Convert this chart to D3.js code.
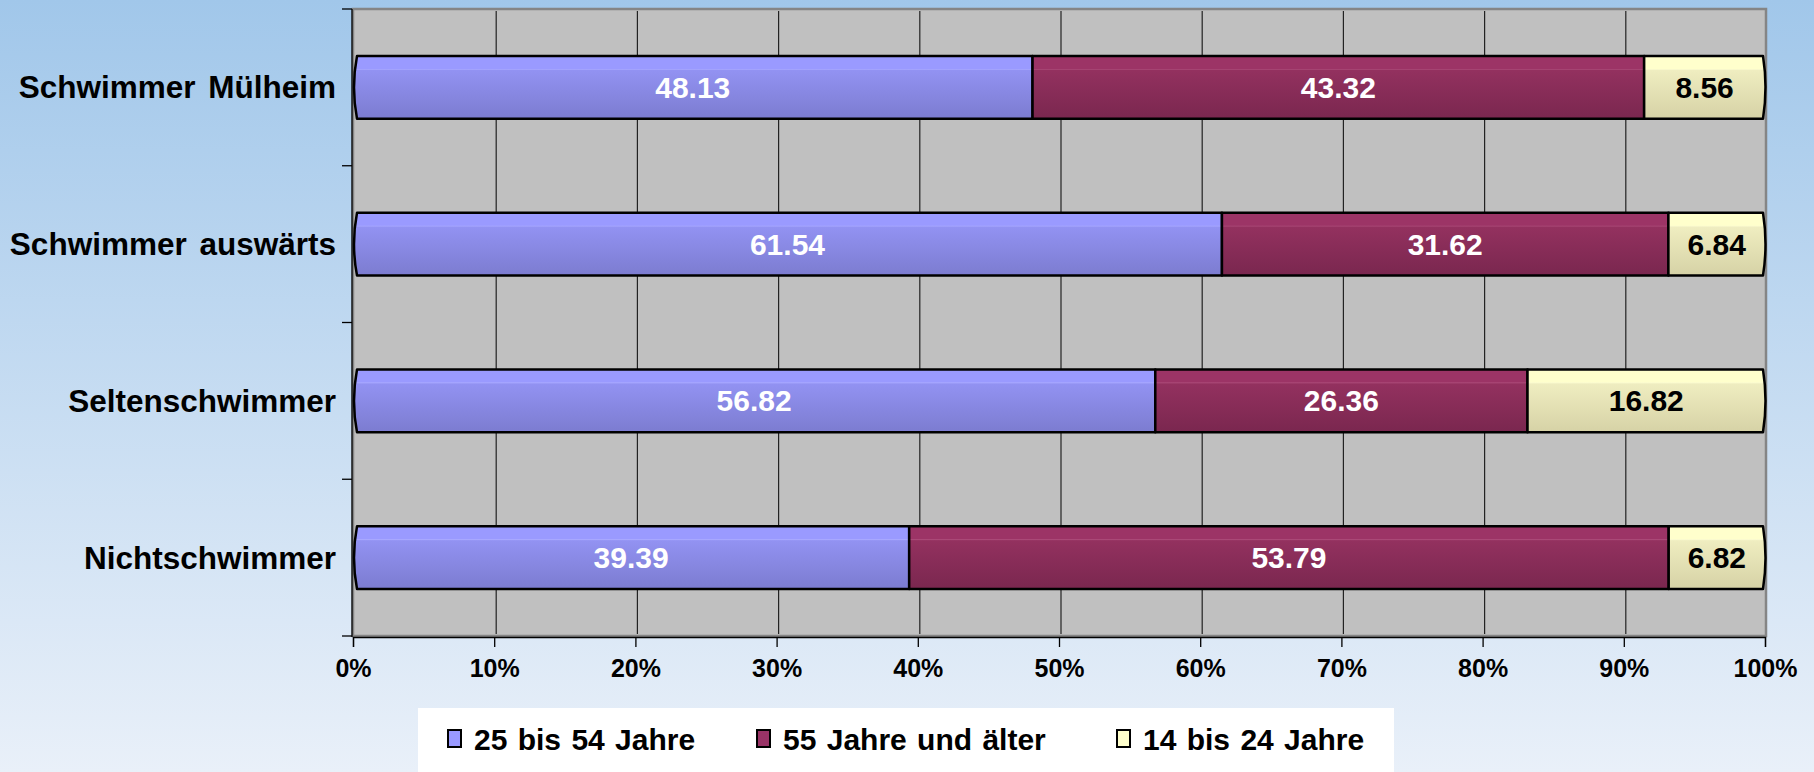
<!DOCTYPE html>
<html>
<head>
    <meta charset="utf-8">
    <title>Schwimmer nach Alter</title>
    <style>
        body { margin: 0; }
        #chart { display: block; }
        text { font-family: "Liberation Sans", Arial, sans-serif; font-weight: bold; }
    </style>
    <script src="https://d3js.org/d3.v7.min.js"></script>
</head>
<body>
    <svg id="chart" width="1814" height="772"></svg>
    <script>
        var categories = ["Schwimmer Mülheim", "Schwimmer auswärts", "Seltenschwimmer", "Nichtschwimmer"];
        var seriesNames = ["25 bis 54 Jahre", "55 Jahre und älter", "14 bis 24 Jahre"];
        var age25to54 = [48.13, 61.54, 56.82, 39.39];
        var age55plus = [43.32, 31.62, 26.36, 53.79];
        var age14to24 = [8.56, 6.84, 16.82, 6.82];
        var xTicks = [0, 0.1, 0.2, 0.3, 0.4, 0.5, 0.6, 0.7, 0.8, 0.9, 1];

        var svg = d3.select("#chart");
        var W = 1814, H = 772;
        var plot = { left: 353, right: 1765, top: 9, bottom: 636 };

        var defs = svg.append("defs");
        var bg = defs.append("linearGradient").attr("id", "bg")
            .attr("x1", 0).attr("y1", 0).attr("x2", 0).attr("y2", 1);
        bg.append("stop").attr("offset", 0).attr("stop-color", "#a1c7ea");
        bg.append("stop").attr("offset", 1).attr("stop-color", "#e9f0f9");

        // bar fills: top to bottom shading like the original
        var fills = [
            ["#9a9aff", "#a9a9ff", "#9292f2", "#7c7cd0"],
            ["#9c3466", "#ab4a78", "#93315f", "#7a274f"],
            ["#ffffcc", "#fbfbd0", "#efedc0", "#d6d2a6"]
        ];
        fills.forEach(function(f, i) {
            var g = defs.append("linearGradient").attr("id", "fill" + i)
                .attr("x1", 0).attr("y1", 0).attr("x2", 0).attr("y2", 1);
            g.append("stop").attr("offset", 0).attr("stop-color", f[0]);
            g.append("stop").attr("offset", 0.2).attr("stop-color", f[0]);
            g.append("stop").attr("offset", 0.21).attr("stop-color", f[1]);
            g.append("stop").attr("offset", 0.23).attr("stop-color", f[2]);
            g.append("stop").attr("offset", 1).attr("stop-color", f[3]);
        });
        var legendColors = ["#9999ff", "#993366", "#ffffcc"];

        svg.append("rect").attr("width", W).attr("height", H).attr("fill", "url(#bg)");

        var x = d3.scaleLinear().domain([0, 1]).range([plot.left, plot.right]);
        var y = d3.scaleBand().domain(categories).range([plot.top, plot.bottom])
            .paddingInner(0.6).paddingOuter(0.3);

        // plot area
        svg.append("rect")
            .attr("x", plot.left).attr("y", plot.top)
            .attr("width", plot.right - plot.left + 1).attr("height", plot.bottom - plot.top)
            .attr("fill", "#c0c0c0").attr("stroke", "#858585").attr("stroke-width", 2.5);

        svg.append("g").selectAll("line").data(xTicks.slice(1, -1)).join("line")
            .attr("x1", function(d) { return x(d) + 2; }).attr("x2", function(d) { return x(d) + 2; })
            .attr("y1", plot.top + 2).attr("y2", plot.bottom - 2)
            .attr("stroke", "#222").attr("stroke-width", 1.2);

        // stacked data, normalised to 100%
        var rows = categories.map(function(c, i) {
            var vals = [age25to54[i], age55plus[i], age14to24[i]];
            var total = d3.sum(vals);
            return { cat: c, vals: vals, shares: vals.map(function(v) { return v / total; }) };
        });
        var stack = d3.stack().keys([0, 1, 2]).value(function(d, k) { return d.shares[k]; });
        var layers = stack(rows);

        var barG = svg.append("g");
        layers.forEach(function(layer, k) {
            layer.forEach(function(seg) {
                var r = seg.data;
                var x0 = x(seg[0]), x1 = x(seg[1]);
                var y0 = y(r.cat), h = y.bandwidth();
                var p;
                if (k === 0) {
                    p = "M" + (x0 + 4) + "," + y0 + "L" + x1 + "," + y0 + "L" + x1 + "," + (y0 + h) +
                        "L" + (x0 + 4) + "," + (y0 + h) + "Q" + (x0 - 2) + "," + (y0 + h / 2) + " " + (x0 + 4) + "," + y0 + "Z";
                } else if (k === 2) {
                    p = "M" + x0 + "," + y0 + "L" + (x1 - 2) + "," + y0 + "Q" + (x1 + 3) + "," + (y0 + h / 2) + " " + (x1 - 2) + "," + (y0 + h) +
                        "L" + x0 + "," + (y0 + h) + "Z";
                } else {
                    p = "M" + x0 + "," + y0 + "H" + x1 + "V" + (y0 + h) + "H" + x0 + "Z";
                }
                barG.append("path").attr("d", p)
                    .attr("fill", "url(#fill" + k + ")")
                    .attr("stroke", "#000").attr("stroke-width", 2.5)
                    .attr("stroke-linejoin", "round");
                barG.append("text")
                    .attr("x", (x0 + x1) / 2).attr("y", y0 + h / 2)
                    .attr("text-anchor", "middle").attr("dominant-baseline", "central")
                    .attr("font-size", 30)
                    .attr("fill", k === 2 ? "#000" : "#fff")
                    .text(r.vals[k].toFixed(2));
            });
        });

        // y axis
        var yAxis = svg.append("g");
        yAxis.append("line").attr("x1", plot.left - 1).attr("x2", plot.left - 1)
            .attr("y1", plot.top).attr("y2", plot.bottom + 1).attr("stroke", "#000").attr("stroke-width", 1.3);
        var bounds = categories.map(function(c) { return y(c) - y.step() * y.paddingInner() / 2; });
        bounds.push(plot.bottom);
        yAxis.selectAll(".tk").data(bounds).join("line")
            .attr("x1", plot.left - 11).attr("x2", plot.left - 1)
            .attr("y1", function(d) { return d; }).attr("y2", function(d) { return d; })
            .attr("stroke", "#000").attr("stroke-width", 1.3);
        yAxis.selectAll("text").data(categories).join("text")
            .attr("x", plot.left - 17).attr("y", function(d) { return y(d) + y.bandwidth() / 2; })
            .attr("text-anchor", "end").attr("dominant-baseline", "central")
            .attr("font-size", 31.5).attr("word-spacing", 4).attr("fill", "#000")
            .text(function(d) { return d; });

        // x axis
        var xAxis = svg.append("g").attr("transform", "translate(0," + (plot.bottom + 1) + ")")
            .call(d3.axisBottom(x).tickValues(xTicks).tickFormat(d3.format(".0%")).tickSize(10).tickPadding(12));
        xAxis.select(".domain").attr("stroke", "#000").attr("stroke-width", 1.3);
        xAxis.selectAll(".tick line").attr("stroke", "#000").attr("stroke-width", 1.3);
        xAxis.selectAll(".tick text")
            .attr("font-size", 25).attr("fill", "#000")
            .style("font-family", "'Liberation Sans', Arial, sans-serif").style("font-weight", "bold");

        // legend
        var legend = svg.append("g");
        legend.append("rect").attr("x", 418).attr("y", 708).attr("width", 976).attr("height", 80).attr("fill", "#fff");
        var legendX = [448, 757, 1117];
        seriesNames.forEach(function(name, i) {
            legend.append("rect").attr("x", legendX[i]).attr("y", 730).attr("width", 13).attr("height", 17)
                .attr("fill", legendColors[i]).attr("stroke", "#000").attr("stroke-width", 2);
            legend.append("text").attr("x", legendX[i] + 26).attr("y", 739)
                .attr("dominant-baseline", "central").attr("font-size", 30).attr("word-spacing", 2).attr("fill", "#000")
                .text(name);
        });
    </script>
</body>
</html>
